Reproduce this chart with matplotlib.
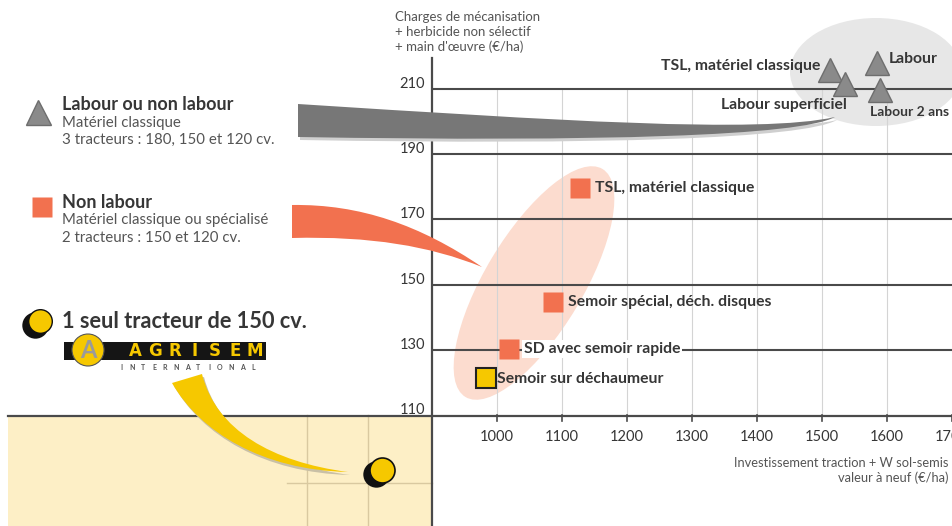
import matplotlib
matplotlib.use("Agg")
import matplotlib.pyplot as plt
from matplotlib.patches import Ellipse, Rectangle, PathPatch, Circle
from matplotlib.path import Path
from matplotlib.transforms import Affine2D

# data
x_ticks = [1000, 1100, 1200, 1300, 1400, 1500, 1600, 1700]
y_ticks = [110, 130, 150, 170, 190, 210]

labour_names = ["TSL, matériel classique", "Labour superficiel", "Labour", "Labour 2 ans"]
labour_x = [1512, 1535, 1585, 1589]
labour_y = [215.8, 211.5, 218.0, 209.7]

nonlabour_names = ["TSL, matériel classique", "Semoir spécial, déch. disques", "SD avec semoir rapide"]
nonlabour_x = [1128, 1086, 1018]
nonlabour_y = [179.6, 144.7, 130.2]

seul_names = ["Semoir sur déchaumeur"]
seul_x = [983]
seul_y = [121.3]

tracteur150_x = [823]
tracteur150_y = [93.1]

W, H = 952, 526
plt.rcParams['font.family'] = ['Lato', 'DejaVu Sans']

fig = plt.figure(figsize=(W / 100, H / 100), dpi=100)
ax = fig.add_axes([0, 0, 1, 1])
ax.set_axis_off()
# axis origin (900, 110) sits at pixel (432, 415); 65 px per 100 €, 3.26 px per €
ax.set_xlim(900 - 432 / 0.65, 900 + (W - 432) / 0.65)
ax.set_ylim(110 - (H - 415) / 3.26, 110 + 415 / 3.26)

# pixel transform (origin top-left) for the decorations
pix = Affine2D().scale(1 / W, -1 / H).translate(0, 1) + fig.transFigure

dark = "#363636"
grey_txt = "#555555"
tri_c = "#8a8a8a"
orange = "#f2714f"
yellow = "#f6c800"

# beige area bottom-left
ax.add_patch(Rectangle((8, 415), 424, 111, transform=pix, fc="#fdefc6", ec="none", zorder=0))
ax.plot([307, 307], [415, 526], transform=pix, color="#d9c9a0", lw=1, zorder=0.5)
ax.plot([368, 368], [415, 526], transform=pix, color="#d9c9a0", lw=1, zorder=0.5)
ax.plot([287, 432], [483, 483], transform=pix, color="#d9c9a0", lw=1, zorder=0.5)

# highlight ellipses
ax.add_patch(Ellipse((876, 72), 172, 108, transform=pix, fc="#e7e7e7", ec="none", zorder=0.5))
ax.add_patch(Ellipse((534, 283), 266, 98, angle=-59, transform=pix, fc="#fcdccf", ec="none", zorder=0.5))

# grid
ax.vlines(x_ticks[:-1], 110, 210, color="#d4d4d4", lw=0.8, zorder=1)
ax.hlines(y_ticks[1:], 900, 1700, color="#4a4a4a", lw=1.5, zorder=1.5)

# axes lines
ax.plot([8, W], [416, 416], transform=pix, color="#4a4a4a", lw=1.6, zorder=2)
ax.plot([432, 432], [58, H], transform=pix, color="#4a4a4a", lw=1.6, zorder=2)
for xv in x_ticks:
    ax.plot([xv, xv], [110, 110 - 6 / 3.26], color="#4a4a4a", lw=1.2, zorder=2)
    ax.text(xv, 110 - 22 / 3.26, str(xv), ha="center", va="center", fontsize=10.5, color=dark)
for yv in y_ticks:
    ax.text(900 - 7 / 0.65, yv + 5 / 3.26, str(yv), ha="right", va="center", fontsize=10.5, color=dark)

for k, line in enumerate(["Charges de mécanisation", "+ herbicide non sélectif", "+ main d'œuvre (€/ha)"]):
    ax.text(395, 17 + 15 * k, line, transform=pix, ha="left", va="center", fontsize=9.5, color=grey_txt)
ax.text(949, 463, "Investissement traction + W sol-semis", transform=pix, ha="right", va="center",
        fontsize=9.3, color=grey_txt)
ax.text(949, 478, "valeur à neuf (€/ha)", transform=pix, ha="right", va="center",
        fontsize=9.3, color=grey_txt)


def curve(p0, c1, c2, p1, q1, d1, d2, q0):
    verts = [p0, c1, c2, p1, q1, d1, d2, q0, p0]
    codes = [Path.MOVETO, Path.CURVE4, Path.CURVE4, Path.CURVE4,
             Path.LINETO, Path.CURVE4, Path.CURVE4, Path.CURVE4, Path.CLOSEPOLY]
    return Path(verts, codes)


def shifted(path, dx, dy):
    return Path([(x + dx, y + dy) for x, y in path.vertices], path.codes)


# grey wedge
gp = curve((298, 104), (550, 120), (760, 134), (835, 117),
           (835, 117), (800, 136), (600, 142), (298, 137))
ax.add_patch(PathPatch(shifted(gp, 2, 3), transform=pix, fc="#cfcfcf", ec="none", zorder=2.2))
ax.add_patch(PathPatch(gp, transform=pix, fc="#777777", ec="none", zorder=2.3))

# orange wedge
op = curve((292, 205), (360, 204), (420, 225), (482, 267),
           (482, 267), (430, 246), (370, 236), (292, 238))
ax.add_patch(PathPatch(op, transform=pix, fc=orange, ec="none", zorder=2.3))

# yellow band
yp = curve((172, 383), (200, 432), (262, 470), (348, 472),
           (348, 472), (272, 462), (216, 430), (202, 374))
ax.add_patch(PathPatch(shifted(yp, 2, 3), transform=pix, fc="#c9c0a6", ec="none", zorder=2.2))
ax.add_patch(PathPatch(yp, transform=pix, fc=yellow, ec="none", zorder=2.3))

# data markers
ax.plot(labour_x, labour_y, ls="none", marker="^", ms=17, mfc=tri_c, mec="#6e6e6e", mew=1, zorder=4)
ax.plot(nonlabour_x, nonlabour_y, ls="none", marker="s", ms=14, mfc=orange, mec="none", zorder=4)
ax.plot(seul_x, seul_y, ls="none", marker="s", ms=14, mfc=yellow, mec="#222222", mew=1.5, zorder=4)
ax.plot([v - 6 / 0.65 for v in tracteur150_x], [v - 4 / 3.26 for v in tracteur150_y],
        ls="none", marker="o", ms=19, mfc="#111111", mec="none", zorder=4)
ax.plot(tracteur150_x, tracteur150_y, ls="none", marker="o", ms=18, mfc=yellow, mec="#111111", mew=1.2, zorder=4.1)

lab_kw = dict(fontsize=11.3, fontweight="bold", color=dark, va="center", zorder=5)
ax.text(labour_x[0] - 9 / 0.65, labour_y[0] + 4 / 3.26, labour_names[0], ha="right", **lab_kw)
ax.text(labour_x[1] + 2 / 0.65, labour_y[1] - 21 / 3.26, labour_names[1], ha="right", **lab_kw)
ax.text(labour_x[2] + 12 / 0.65, labour_y[2] + 4 / 3.26, labour_names[2], ha="left", **lab_kw)
ax.text(labour_x[3] - 10 / 0.65, labour_y[3] - 22 / 3.26, labour_names[3], ha="left",
        **dict(lab_kw, fontsize=10))

for i, (xv, yv, name) in enumerate(zip(nonlabour_x, nonlabour_y, nonlabour_names)):
    box = dict(fc="white", ec="none", pad=1.5) if i == 2 else None
    ax.text(xv + 15 / 0.65, yv, name, ha="left", bbox=box, **lab_kw)
ax.text(seul_x[0] + 11 / 0.65, seul_y[0] - 1 / 3.26, seul_names[0], ha="left", **lab_kw)

# legend block (left)
ax.plot([38], [112], transform=pix, marker="^", ms=18, mfc=tri_c, mec="#6e6e6e", ls="none")
ax.text(62, 104, "Labour ou non labour", transform=pix, fontsize=13, fontweight="bold", color=dark, va="center")
ax.text(62, 123, "Matériel classique", transform=pix, fontsize=10.8, color=grey_txt, va="center")
ax.text(62, 140, "3 tracteurs : 180, 150 et 120 cv.", transform=pix, fontsize=10.8, color=grey_txt, va="center")

ax.plot([42], [207], transform=pix, marker="s", ms=15, mfc=orange, mec="none", ls="none")
ax.text(62, 202, "Non labour", transform=pix, fontsize=13, fontweight="bold", color=dark, va="center")
ax.text(62, 220, "Matériel classique ou spécialisé", transform=pix, fontsize=10.8, color=grey_txt, va="center")
ax.text(62, 238, "2 tracteurs : 150 et 120 cv.", transform=pix, fontsize=10.8, color=grey_txt, va="center")

ax.plot([35], [325], transform=pix, marker="o", ms=19, mfc="#111111", mec="none", ls="none")
ax.plot([40], [321], transform=pix, marker="o", ms=17, mfc=yellow, mec="#111111", mew=1, ls="none")
ax.text(62, 322, "1 seul tracteur de 150 cv.", transform=pix, fontsize=15.7, fontweight="bold", color=dark, va="center")

# logo
ax.add_patch(Rectangle((64, 342), 202, 18, transform=pix, fc="#151515", ec="none", zorder=3))
ax.add_patch(Circle((88, 350), 16, transform=pix, fc=yellow, ec="#555555", lw=0.8, zorder=3.2))
ax.text(88, 351, "A", transform=pix, fontsize=17, fontweight="bold", color="#9a9a9a",
        ha="center", va="center", zorder=3.3)
for k, ch in enumerate("AGRISEM"):
    ax.text(135 + k * 20, 351, ch, transform=pix, fontsize=12, fontweight="bold", color=yellow,
            ha="center", va="center", zorder=3.4, family=["DejaVu Sans"])
for k, ch in enumerate("INTERNATIONAL"):
    ax.text(121 + k * 11, 367, ch, transform=pix, fontsize=5, fontweight="bold",
            color="#555555", ha="center", va="center", zorder=3.4)

fig.savefig("out.png", dpi=100)
